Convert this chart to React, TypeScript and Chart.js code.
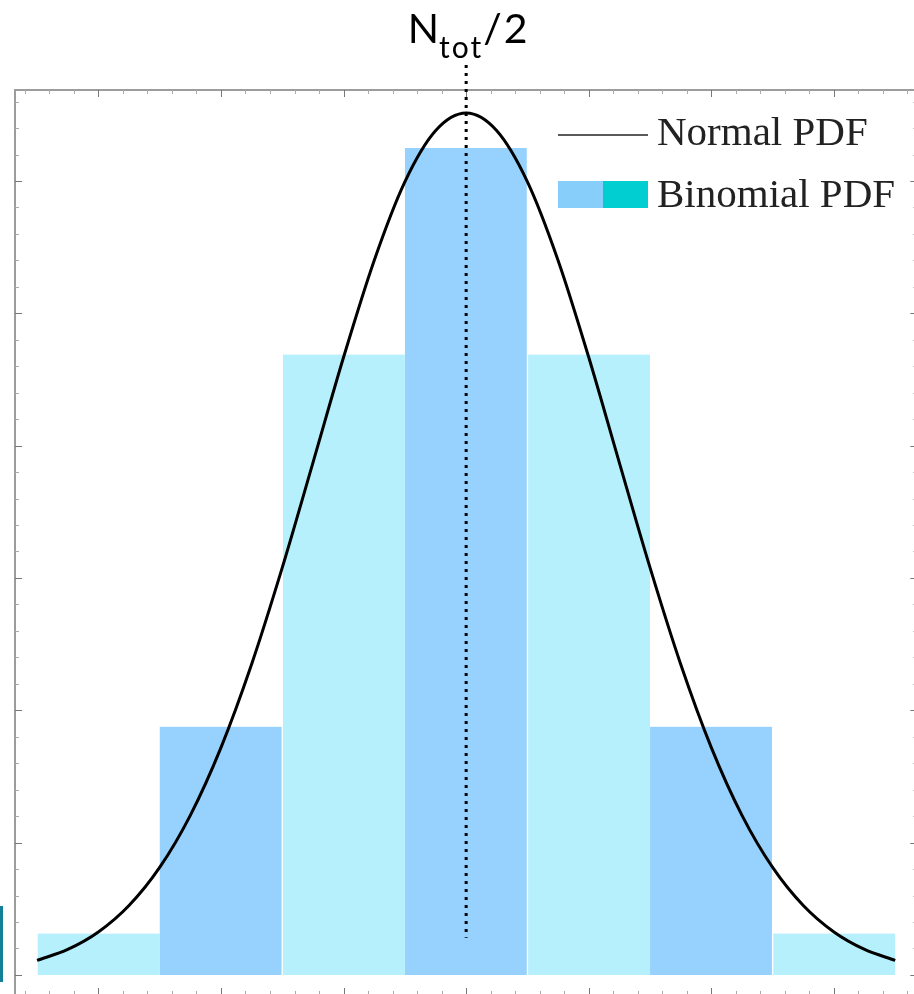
import React, { useEffect, useRef } from "react";
import { Chart, registerables } from "chart.js";

Chart.register(...registerables);

// Binomial PDF (bars): outcome k and probability
const binomialK = [0, 1, 2, 3, 4, 5, 6];
const binomialP = [0.0156, 0.0938, 0.2344, 0.3125, 0.2344, 0.0938, 0.0156];

// Normal PDF (curve)
const normalX = [
  -0.5, -0.25, 0, 0.25, 0.5, 0.75, 1, 1.25, 1.5, 1.75, 2, 2.25, 2.5, 2.75, 3,
  3.25, 3.5, 3.75, 4, 4.25, 4.5, 4.75, 5, 5.25, 5.5, 5.75, 6, 6.25, 6.5,
];
const normalY = [
  0.0055, 0.0096, 0.0162, 0.0262, 0.0406, 0.0603, 0.0859, 0.1174, 0.1539,
  0.1935, 0.2334, 0.27, 0.2997, 0.319, 0.3257, 0.319, 0.2997, 0.27, 0.2334,
  0.1935, 0.1539, 0.1174, 0.0859, 0.0603, 0.0406, 0.0262, 0.0162, 0.0096,
  0.0055,
];

// Mean marker
const meanValue = 3;
const meanLineBottom = 0.014;
const meanLabelMain = "N";
const meanLabelSub = "tot";
const meanLabelTail = "/2";

// Legend labels
const legendLabels = ["Normal PDF", "Binomial PDF"];

// Axis ranges and (unlabelled) tick spacing
const xRange = [-0.68, 6.68];
const yRange = [-0.0076, 0.3344];
const xTickCount = [-3, 33]; // in steps of 0.2
const yTickCount = [0, 33]; // in steps of 0.01

const LIGHT = "#B6F0FD";
const BLUE = "#96D2FD";

const decorPlugin = {
  id: "decor",
  afterDatasetsDraw(chart: any) {
    const { ctx, chartArea: a, scales } = chart;
    const x = scales.x;
    const y = scales.y;
    ctx.save();

    // frame
    ctx.strokeStyle = "#9c9c9c";
    ctx.lineWidth = 2;
    ctx.setLineDash([]);
    ctx.strokeRect(a.left, a.top, a.right - a.left, a.bottom - a.top);

    // inward ticks
    for (let i = yTickCount[0]; i <= yTickCount[1]; i++) {
      const py = Math.round(y.getPixelForValue(i / 100)) + 0.5;
      const major = i % 5 === 0;
      const len = major ? 7 : 4;
      ctx.strokeStyle = major ? "#777" : "#aaa";
      ctx.lineWidth = 1;
      ctx.beginPath();
      ctx.moveTo(a.left, py);
      ctx.lineTo(a.left + len, py);
      ctx.moveTo(a.right, py);
      ctx.lineTo(a.right - len, py);
      ctx.stroke();
    }
    for (let i = xTickCount[0]; i <= xTickCount[1]; i++) {
      const px = Math.round(x.getPixelForValue(i / 5)) + 0.5;
      const major = i % 5 === 0;
      const len = major ? 7 : 4;
      ctx.strokeStyle = major ? "#777" : "#aaa";
      ctx.lineWidth = 1;
      ctx.beginPath();
      ctx.moveTo(px, a.top);
      ctx.lineTo(px, a.top + len);
      ctx.moveTo(px, a.bottom);
      ctx.lineTo(px, a.bottom - len);
      ctx.stroke();
    }

    // dotted mean line
    const mx = x.getPixelForValue(meanValue);
    ctx.strokeStyle = "#000";
    ctx.lineWidth = 3;
    ctx.setLineDash([3, 5]);
    ctx.beginPath();
    ctx.moveTo(mx, a.top - 25);
    ctx.lineTo(mx, y.getPixelForValue(meanLineBottom));
    ctx.stroke();
    ctx.setLineDash([]);

    // mean label N_tot/2
    ctx.fillStyle = "#000";
    ctx.textBaseline = "alphabetic";
    ctx.textAlign = "left";
    const mainFont = "41px Lato";
    const subFont = "30px Lato";
    (ctx as any).letterSpacing = "0px";
    ctx.font = mainFont;
    const wN = ctx.measureText(meanLabelMain).width;
    const wTail = ctx.measureText(meanLabelTail).width + 2;
    ctx.font = subFont;
    (ctx as any).letterSpacing = "2px";
    const wSub = ctx.measureText(meanLabelSub).width;
    (ctx as any).letterSpacing = "0px";
    const total = wN + wSub + wTail;
    let tx = mx + 1.5 - total / 2;
    const base = a.top - 47;
    ctx.font = mainFont;
    ctx.fillText(meanLabelMain, tx, base);
    tx += wN;
    ctx.font = subFont;
    (ctx as any).letterSpacing = "2px";
    ctx.fillText(meanLabelSub, tx, base + 15);
    (ctx as any).letterSpacing = "2px";
    tx += wSub;
    ctx.font = mainFont;
    ctx.fillText(meanLabelTail, tx, base);
    (ctx as any).letterSpacing = "0px";

    // legend
    const lx = a.left + 543;
    ctx.strokeStyle = "#222";
    ctx.lineWidth = 1.6;
    ctx.beginPath();
    ctx.moveTo(lx, a.top + 45);
    ctx.lineTo(lx + 90, a.top + 45);
    ctx.stroke();
    ctx.fillStyle = "#87CEFA";
    ctx.fillRect(lx, a.top + 91, 45, 27);
    ctx.fillStyle = "#00CED1";
    ctx.fillRect(lx + 45, a.top + 91, 45, 27);
    ctx.fillStyle = "#222";
    ctx.font = "41px 'Liberation Serif'";
    ctx.fillText(legendLabels[0], lx + 99, a.top + 55);
    ctx.fillText(legendLabels[1], lx + 99, a.top + 117);

    ctx.restore();
  },
};

export default function App() {
  const ref = useRef<HTMLCanvasElement | null>(null);
  useEffect(() => {
    if (!ref.current) return;
    const chart = new Chart(ref.current, {
      type: "bar",
      data: {
        datasets: [
          {
            type: "line",
            label: legendLabels[0],
            data: normalX.map((v, i) => ({ x: v, y: normalY[i] })),
            borderColor: "#000",
            borderWidth: 3,
            pointRadius: 0,
            cubicInterpolationMode: "monotone",
            fill: false,
            order: 0,
          } as any,
          {
            type: "bar",
            label: legendLabels[1],
            data: binomialK.map((k, i) => ({ x: k, y: binomialP[i] })),
            backgroundColor: binomialK.map((_, i) => (i % 2 === 0 ? LIGHT : BLUE)),
            borderColor: "#ffffff",
            borderWidth: (c: any) =>
              c.dataIndex % 2 === 1
                ? { right: 1, left: 0, top: 0, bottom: 0 }
                : { left: 1, right: 0, top: 0, bottom: 0 },
            borderSkipped: "bottom",
            barPercentage: 1,
            categoryPercentage: 1,
            order: 1,
          } as any,
        ],
      },
      options: {
        animation: false,
        responsive: false,
        events: [],
        layout: { padding: { left: 15, top: 90, right: 2.7, bottom: 5 } },
        scales: {
          x: {
            type: "linear",
            min: xRange[0],
            max: xRange[1],
            offset: false,
            display: false,
            afterBuildTicks: (scale: any) => {
              scale.ticks = binomialK.map((v) => ({ value: v }));
            },
          },
          y: { type: "linear", min: yRange[0], max: yRange[1], display: false },
        },
        plugins: { legend: { display: false }, tooltip: { enabled: false } },
      },
      plugins: [decorPlugin],
    });
    return () => chart.destroy();
  }, []);

  return (
    <div style={{ position: "fixed", left: 0, top: 0, width: 914, height: 994, overflow: "hidden", background: "#fff" }}>
      <canvas ref={ref} width={920} height={1000} style={{ position: "absolute", left: 0, top: 0 }} />
      <div style={{ position: "absolute", left: 0, top: 906, width: 3, height: 76, background: "#13809a" }} />
    </div>
  );
}
